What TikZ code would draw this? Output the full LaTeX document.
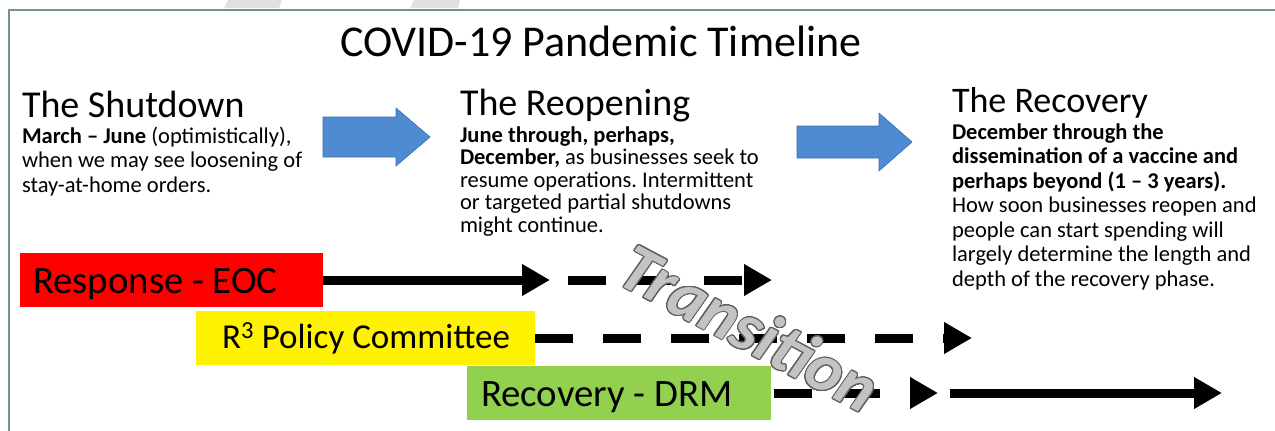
\documentclass[tikz,border=0pt]{standalone}
\usepackage{fontspec}
\setmainfont{Carlito}
\usepackage{contour}
\usetikzlibrary{arrows.meta}
\definecolor{framegray}{RGB}{120,145,145}
\definecolor{phaseblue}{RGB}{79,139,210}
\definecolor{phaseblueedge}{RGB}{60,110,170}
\definecolor{drmgreen}{RGB}{146,208,80}
\definecolor{wordartfill}{RGB}{195,195,195}
\definecolor{wordartedge}{RGB}{95,95,95}
\definecolor{ghostgray}{RGB}{225,225,225}
\newcommand\setfs[2]{\fontsize{#1}{#2}\selectfont}
\contourlength{1pt}
\contournumber{24}
\frenchspacing
\begin{document}
\begin{tikzpicture}[x=1pt,y=-1pt,
  txt/.style={inner sep=0pt, outer sep=0pt, anchor=base west},
  heading/.style={txt},
  bar/.style={minimum height=54pt, inner ysep=0pt, outer sep=0pt, anchor=north west},
  barlabel/.style={txt, font=\setfs{38.8}{42}},
  phasearrow/.style={fill=phaseblue, draw=phaseblueedge, line width=0.6pt},
  flow/.style={line width=9pt, -{Triangle[length=28pt,width=30pt]}},
  dflow/.style={flow, dash pattern=on 38pt off 30pt}
]
\useasboundingbox (0,0) rectangle (1275,431);
\fill[white] (0,0) rectangle (1275,431);
% ghost marks at top edge
\fill[ghostgray] (228,0) -- (282,0) -- (279,8) -- (224,8) -- cycle;
\fill[ghostgray] (414,0) -- (460,0) -- (458,8) -- (410,8) -- cycle;
% frame
\draw[framegray, line width=2pt] (9,431) -- (9,10) -- (1275,10);

% title
\node[txt, font=\setfs{44}{48}] (title) at (340,56) {COVID-19 Pandemic Timeline};

% headings
\node[heading, font=\setfs{38}{42}] (h1) at (22,117) {The Shutdown};
\node[heading, font=\setfs{38}{42}] (h2) at (460,115) {The Reopening};
\node[heading, font=\setfs{36}{40}] (h3) at (952,112) {The Recovery};

% body texts
\node[txt] (b1) at (22,143) {\parbox[t]{330pt}{\setfs{22.5}{24.5}\textbf{March – June} (optimistically),\\when we may see loosening of\\stay-at-home orders.}};
\node[txt] (b2) at (460,142) {\parbox[t]{330pt}{\setfs{22.5}{22.5}\textbf{June through, perhaps,}\\\textbf{December,} as businesses seek to\\resume operations. Intermittent\\or targeted partial shutdowns\\might continue.}};
\node[txt] (b3) at (952,139) {\parbox[t]{330pt}{\setfs{22.5}{24.5}\textbf{December through the}\\\textbf{dissemination of a vaccine and}\\\textbf{perhaps beyond (1 – 3 years).}\\How soon businesses reopen and\\people can start spending will\\largely determine the length and\\depth of the recovery phase.}};

% blue phase arrows
\draw[phasearrow] (323,117) -- (396,117) -- (396,108) -- (430,137) -- (396,166) -- (396,157) -- (323,157) -- cycle;
\draw[phasearrow] (797,126) -- (879,126) -- (879,113) -- (912,142) -- (879,171) -- (879,158) -- (797,158) -- cycle;

% bars
\node[bar, fill=red, minimum width=303pt] (eoc) at (20,253) {};
\node[bar, fill=yellow, minimum width=339pt] (r3) at (196,311) {};
\node[bar, fill=drmgreen, minimum width=304pt] (drm) at (467,366) {};
\node[barlabel] (eoclabel) at (33,293) {Response - EOC};
\node[barlabel, font=\setfs{35}{38}] (r3label) at (222,348) {R\textsuperscript{3} Policy Committee};
\node[barlabel] (drmlabel) at (481,406) {Recovery - DRM};

% flow coordinates
\coordinate (e1) at (550,280);
\coordinate (d1s) at (568,280);
\coordinate (d1e) at (772,280);
\coordinate (d2e) at (972,338);
\coordinate (d3e) at (938,393);
\coordinate (s3s) at (950,393);
\coordinate (s3e) at (1222,393);

% connectors
\draw[flow] (eoc.east) -- (e1);
\draw[dflow] (d1s) -- (d1e);
\draw[dflow] (r3.east) -- (d2e);
\draw[dflow, shorten <=3pt] (drm.east) -- (d3e);
\draw[flow] (s3s) -- (s3e);

% Transition word art
\node[inner sep=0pt, rotate=-28, font=\setfs{68}{72}\bfseries\itshape] (trans) at (750,328) {\contour{wordartedge}{\textcolor{wordartfill}{Transition}}};
\end{tikzpicture}
\end{document}
